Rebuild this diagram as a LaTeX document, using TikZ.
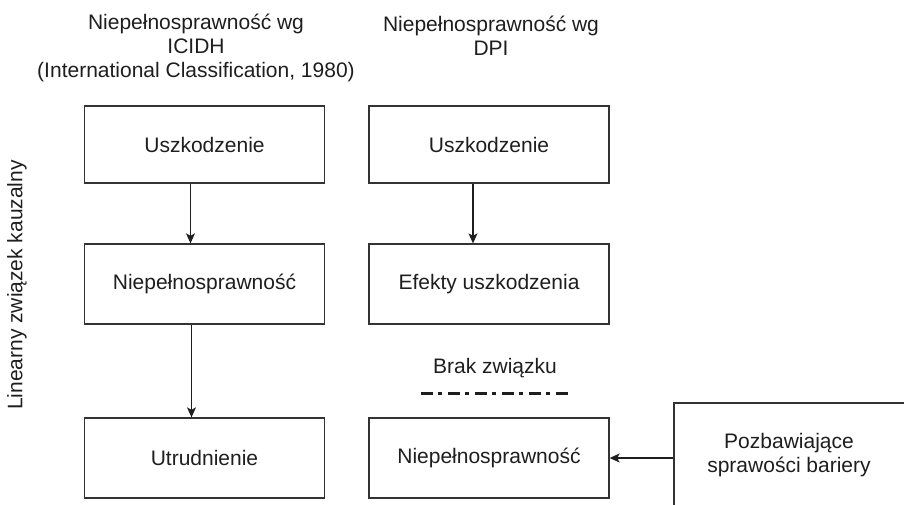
\documentclass[tikz,border=0pt]{standalone}
\usepackage{fontspec}
\setmainfont{Liberation Sans}
\usetikzlibrary{arrows.meta}
\definecolor{ink}{HTML}{1E1E1E}
\definecolor{frame}{HTML}{333333}
\begin{document}
\begin{tikzpicture}[x=1pt,y=-1pt,
  txt/.style={inner sep=0pt, text=ink, font=\fontsize{21}{24}\selectfont, align=center},
  stepbox/.style={txt, draw=frame, line width=1.3pt, minimum width=240pt},
  arr/.style={draw=ink, line width=1.2pt, -{Stealth[length=10pt,width=9pt,inset=2.5pt]}},
  nolink/.style={draw=ink, line width=3pt, dash pattern=on 12pt off 5pt on 4pt off 6pt}
]
\useasboundingbox (0,0) rectangle (904,505);
\clip (0,0) rectangle (904,505);

% column headings
\node[txt] (hicidh) at (196,48) {Niepełnosprawność wg\\ICIDH\\(International Classification, 1980)};
\node[txt] (hdpi) at (491,36) {Niepełnosprawność wg\\DPI};

% side caption
\node[txt, rotate=90] (linear) at (17,285) {Linearny związek kauzalny};

% ICIDH chain
\node[stepbox, minimum height=77pt] (l1) at (204.5,144.5) {Uszkodzenie};
\node[stepbox, minimum height=80pt] (l2) at (204.5,284) {Niepełnosprawność};
\node[stepbox, minimum height=80pt] (l3) at (204.5,458) {Utrudnienie};

% DPI chain
\node[stepbox, minimum height=77pt] (r1) at (489,144.5) {Uszkodzenie};
\node[stepbox, minimum height=80pt] (r2) at (489,284) {Efekty uszkodzenia};
\node[stepbox, minimum height=80pt] (r3) at (489,458) {Niepełnosprawność};

% barriers box, running off the page
\node[stepbox, minimum height=106pt] (bar) at (794,456) {};
\node[txt] (bartxt) at (789,455) {Pozbawiające\\sprawości bariery};

% no-link marker
\node[txt] (brak) at (495,368) {Brak związku};
\coordinate (nl1) at (421,393);
\coordinate (nl2) at (571,393);
\draw[nolink] (nl1) -- (nl2);

% causal arrows
\draw[arr] ([xshift=-14pt]l1.south) -- ([xshift=-14pt]l1.south |- l2.north);
\draw[arr] ([xshift=-13pt]l2.south) -- ([xshift=-13pt]l2.south |- l3.north);
\draw[arr] ([xshift=-16pt]r1.south) -- ([xshift=-16pt]r1.south |- r2.north);
\draw[arr] (bar.west |- r3.east) -- (r3.east);
\end{tikzpicture}
\end{document}
